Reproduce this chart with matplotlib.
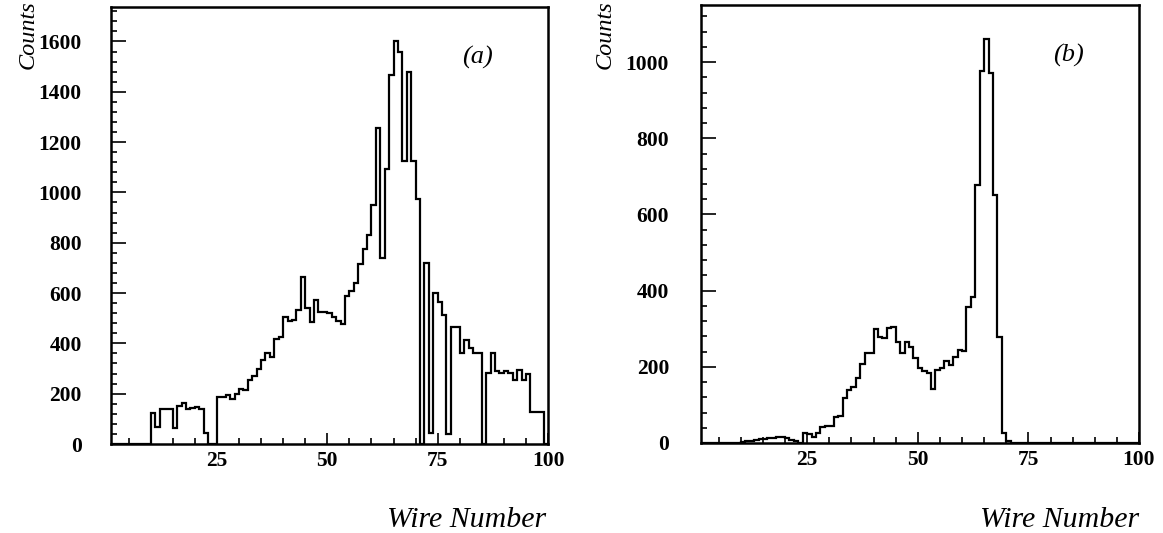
import numpy as np
import matplotlib.pyplot as plt
from matplotlib.ticker import MultipleLocator, FixedLocator

# counts per wire, wires 1..99 (bin i spans [i, i+1))
counts_a = [
    0, 0, 0, 0, 0, 0, 0, 0, 0,                                   # 1-9
    125, 69, 138, 138, 138, 62, 152, 162, 138, 142,              # 10-19
    148, 138, 42, 0, 0, 186, 188, 195, 178, 197,                 # 20-29
    217, 215, 254, 270, 297, 334, 363, 345, 416, 427,            # 30-39
    504, 490, 493, 533, 665, 539, 486, 573, 526, 526,            # 40-49
    520, 505, 490, 478, 588, 608, 641, 715, 776, 829,            # 50-59
    950, 1255, 738, 1095, 1467, 1600, 1560, 1123, 1480, 1123,    # 60-69
    975, 0, 721, 45, 599, 566, 513, 40, 464, 464,                # 70-79
    363, 413, 380, 360, 360, 0, 284, 363, 292, 284,              # 80-89
    292, 281, 254, 294, 254, 278, 129, 129, 129, 0,              # 90-99
]

counts_b = [
    0, 0, 0, 0, 0, 0, 0, 0, 0,                                   # 1-9
    3, 5, 6, 9, 10, 11, 12, 14, 15, 15,                          # 10-19
    12, 9, 4, 0, 27, 24, 17, 27, 43, 45,                         # 20-29
    45, 69, 72, 117, 139, 148, 170, 207, 235, 237,               # 30-39
    299, 279, 275, 303, 304, 266, 235, 266, 253, 222,            # 40-49
    196, 189, 183, 141, 192, 196, 216, 205, 227, 245,            # 50-59
    241, 358, 384, 677, 977, 1060, 972, 651, 279, 25,            # 60-69
    5, 0, 0, 0, 0, 0, 0, 0, 0, 0,                                # 70-79
    0, 0, 0, 0, 0, 0, 0, 0, 0, 0,                                # 80-89
    0, 0, 0, 0, 0, 0, 0, 0, 0, 0,                                # 90-99
]

edges = np.arange(1, 101)
xticks = [25, 50, 75, 100]
yticks_a = [0, 200, 400, 600, 800, 1000, 1200, 1400, 1600]
yticks_b = [0, 200, 400, 600, 800, 1000]

serif = ['Liberation Serif', 'DejaVu Serif']
plt.rcParams['font.family'] = serif

fig = plt.figure(figsize=(11.63, 5.33), dpi=100)
W, H = 1163, 533

ax_a = fig.add_axes([111 / W, 89 / H, 437 / W, 437 / H])
ax_b = fig.add_axes([701 / W, 90 / H, 438 / W, 438 / H])


def style(ax, counts, yticks, ymax, tag, ypad):
    ax.stairs(counts, edges, color='black', linewidth=1.6, baseline=0)
    ax.set_xlim(1, 100)
    ax.set_ylim(0, ymax)
    for side in ['left', 'right', 'top', 'bottom']:
        ax.spines[side].set_linewidth(1.8)
    ax.xaxis.set_major_locator(FixedLocator(xticks))
    ax.xaxis.set_minor_locator(MultipleLocator(5))
    ax.yaxis.set_major_locator(FixedLocator(yticks))
    ax.yaxis.set_minor_locator(MultipleLocator(40))
    ax.tick_params(axis='both', which='both', direction='in',
                   top=False, right=False, width=1.2)
    ax.tick_params(axis='y', which='major', length=11, pad=ypad)
    ax.tick_params(axis='y', which='minor', length=4.5)
    ax.tick_params(axis='x', which='major', length=8, pad=5)
    ax.tick_params(axis='x', which='minor', length=4.5)
    for lab in ax.get_xticklabels() + ax.get_yticklabels():
        lab.set_fontsize(15.5)
        lab.set_fontweight('bold')
    ax.text(0.838, 0.885, tag, transform=ax.transAxes, fontsize=19,
            style='italic', ha='center', va='center')


style(ax_a, counts_a, yticks_a, 1737, '(a)', 21)
style(ax_b, counts_b, yticks_b, 1150, '(b)', 23)

# axis titles
for xc in [28, 605]:
    fig.text(xc / W, 1 - 35 / H, 'Counts', rotation=90, fontsize=17.5,
             style='italic', ha='center', va='center')
for xr in [546, 1139]:
    fig.text(xr / W, 1 - 527 / H, 'Wire Number', fontsize=21.5,
             style='italic', ha='right', va='baseline')

fig.savefig('out.png', dpi=100)
